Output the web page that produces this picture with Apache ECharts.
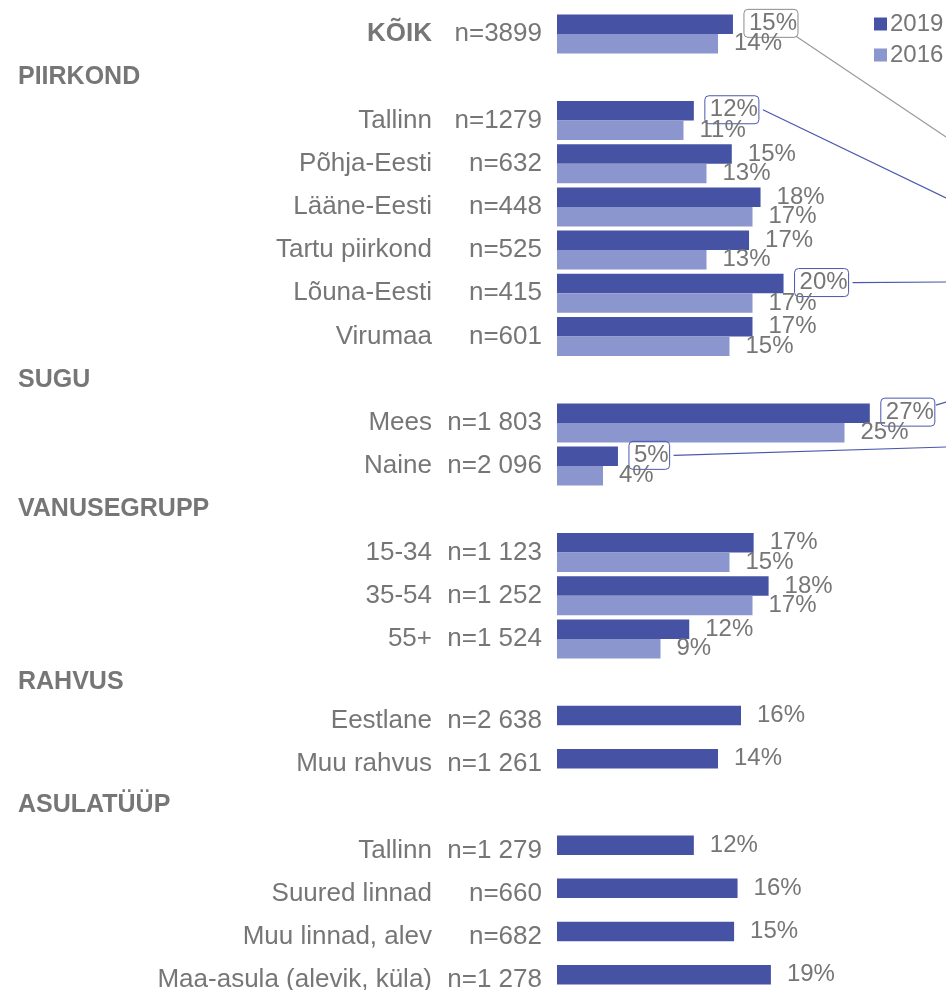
<!DOCTYPE html>
<html>
<head>
<meta charset="utf-8">
<script src="https://cdn.jsdelivr.net/npm/echarts@6/dist/echarts.min.js"></script>
<style>
html,body{margin:0;padding:0;background:#fff;overflow:hidden;}
#chart{width:946px;height:1030px;}
</style>
</head>
<body>
<div id="chart"></div>
<script>
// ---- data ----
const rowNames = ['KÕIK', '', 'Tallinn', 'Põhja-Eesti', 'Lääne-Eesti', 'Tartu piirkond', 'Lõuna-Eesti', 'Virumaa', '', 'Mees', 'Naine', '', '15-34', '35-54', '55+', '', 'Eestlane', 'Muu rahvus', '', 'Tallinn', 'Suured linnad', 'Muu linnad, alev', 'Maa-asula (alevik, küla)'];
const sampleSizes = ['n=3899', '', 'n=1279', 'n=632', 'n=448', 'n=525', 'n=415', 'n=601', '', 'n=1 803', 'n=2 096', '', 'n=1 123', 'n=1 252', 'n=1 524', '', 'n=2 638', 'n=1 261', '', 'n=1 279', 'n=660', 'n=682', 'n=1 278'];
const groupHeaders = ['', 'PIIRKOND', '', '', '', '', '', '', 'SUGU', '', '', 'VANUSEGRUPP', '', '', '', 'RAHVUS', '', '', 'ASULATÜÜP', '', '', '', ''];
const seriesNames = ['2019', '2016'];
const values2019 = [15.3, null, 11.9, 15.2, 17.7, 16.7, 19.7, 17.0, null, 27.2, 5.3, null, 17.1, 18.4, 11.5, null, 16.0, 14.0, null, 11.9, 15.7, 15.4, 18.6];
const values2016 = [14.0, null, 11.0, 13.0, 17.0, 13.0, 17.0, 15.0, null, 25.0, 4.0, null, 15.0, 17.0, 9.0, null, null, null, null, null, null, null, null];
// callout boxes on 2019 labels (row index, leader target y at right edge)
const callouts = [
  {row: 0, color: '#8c8c8c', lineColor: '#9a9a9a', startAt: 'bottom', endY: 137},
  {row: 2, color: '#4a58ad', lineColor: '#4a58ad', startAt: 'middle', endY: 198},
  {row: 6, color: '#4a58ad', lineColor: '#4a58ad', startAt: 'middle', endY: 282},
  {row: 9, color: '#4a58ad', lineColor: '#4a58ad', startAt: 'top', endY: 402},
  {row: 10, color: '#4a58ad', lineColor: '#4a58ad', startAt: 'middle', endY: 447}
];

// ---- styles ----
const FONT = "'Liberation Sans', Arial, sans-serif";
const GRAY = '#767676';
const C2019 = '#4653a4';
const C2016 = '#8b96ce';
const VAL_FS = 24;
const ROW_FS = 26;
const SINGLE_BAR_FROM = 16; // rows from here on only have a 2019 bar; labels sit a bit higher
const rowIds = rowNames.map((_, i) => 'r' + i);

const fmt = p => (p.value == null ? '' : Math.round(p.value) + '%');

function data2019() {
  return values2019.map((v, i) => {
    const c = callouts.find(c => c.row === i);
    if (!c) return v;
    return {
      value: v,
      label: {
        distance: 11,
        borderColor: c.color,
        borderWidth: 1,
        borderRadius: 4,
        padding: [2, 1, 0, 5],
        offset: [0, -1]
      }
    };
  });
}

const rowRich = {
  b: {fontSize: ROW_FS, fontWeight: 'bold', color: GRAY, fontFamily: FONT},
  n: {fontSize: ROW_FS, color: GRAY, fontFamily: FONT},
  u: {fontSize: ROW_FS, color: GRAY, fontFamily: FONT, padding: [0, 0, 9, 0]}
};
function rowLabel(arr, i) {
  const t = arr[i];
  if (!t) return '';
  if (i === 0 && arr === rowNames) return '{b|' + t + '}';
  return (i >= SINGLE_BAR_FROM ? '{u|' : '{n|') + t + '}';
}

const chart = echarts.init(document.getElementById('chart'), null, {renderer: 'canvas'});
const GRID_LEFT = 557;
const option = {
  backgroundColor: '#fff',
  animation: false,
  textStyle: {fontFamily: FONT},
  legend: {
    data: seriesNames,
    orient: 'vertical',
    left: 869,
    top: 7,
    itemWidth: 13,
    itemHeight: 13,
    itemGap: 7,
    icon: 'rect',
    textStyle: {fontSize: VAL_FS, color: GRAY, fontFamily: FONT, padding: [0, 0, 0, -2]}
  },
  grid: {left: GRID_LEFT, top: 12.5, height: 993.6, width: 345, containLabel: false},
  xAxis: {type: 'value', min: 0, max: 30, show: false},
  yAxis: [
    {
      type: 'category', data: rowIds, inverse: true, position: 'left',
      axisLine: {show: false}, axisTick: {show: false}, splitLine: {show: false},
      axisLabel: {
        interval: 0, margin: GRID_LEFT - 432, fontSize: ROW_FS, color: GRAY, fontFamily: FONT,
        formatter: (v, i) => rowLabel(rowNames, i),
        rich: rowRich
      }
    },
    {
      type: 'category', data: rowIds, inverse: true, position: 'left', offset: 0,
      axisLine: {show: false}, axisTick: {show: false}, splitLine: {show: false},
      axisLabel: {
        interval: 0, margin: GRID_LEFT - 542, fontSize: ROW_FS, color: GRAY, fontFamily: FONT,
        formatter: (v, i) => rowLabel(sampleSizes, i),
        rich: rowRich
      }
    },
    {
      type: 'category', data: rowIds, inverse: true, position: 'left', offset: 0,
      axisLine: {show: false}, axisTick: {show: false}, splitLine: {show: false},
      axisLabel: {
        interval: 0, margin: GRID_LEFT - 18, align: 'left', fontSize: 25, fontWeight: 'bold',
        color: GRAY, fontFamily: FONT,
        formatter: (v, i) => {
          const t = groupHeaders[i];
          if (!t) return '';
          return (i >= SINGLE_BAR_FROM ? '{u|' : '{h|') + t + '}';
        },
        rich: {
          h: {fontSize: 25, fontWeight: 'bold', color: GRAY, fontFamily: FONT},
          u: {fontSize: 25, fontWeight: 'bold', color: GRAY, fontFamily: FONT, padding: [0, 0, 14, 0]}
        }
      }
    }
  ],
  series: [
    {
      name: seriesNames[0], type: 'bar', yAxisIndex: 0, data: data2019(),
      barWidth: 19.5, barGap: '0%',
      itemStyle: {color: C2019},
      label: {show: true, position: 'right', distance: 16, formatter: fmt,
        fontSize: VAL_FS, color: GRAY, fontFamily: FONT, lineHeight: 26}
    },
    {
      name: seriesNames[1], type: 'bar', yAxisIndex: 0, data: values2016,
      barWidth: 19.5, barGap: '0%',
      itemStyle: {color: C2016},
      label: {show: true, position: 'right', distance: 16, formatter: fmt,
        fontSize: VAL_FS, color: GRAY, fontFamily: FONT, lineHeight: 26}
    }
  ]
};
chart.setOption(option);

// leader lines from callout boxes
(function () {
  const ctx = document.createElement('canvas').getContext('2d');
  ctx.font = VAL_FS + "px 'Liberation Sans', Arial, sans-serif";
  const sd = chart.getModel().getSeriesByIndex(0).getData();
  const W = chart.getWidth();
  const els = [];
  callouts.forEach(c => {
    const lay = sd.getItemLayout(c.row);
    if (!lay) return;
    const txt = Math.round(values2019[c.row]) + '%';
    const boxW = ctx.measureText(txt).width + 6;
    const x0 = lay.x + lay.width + 11 + boxW;
    const cy = lay.y + lay.height / 2 - 1;
    let y0 = cy, dx = 4;
    if (c.startAt === 'bottom') { y0 = cy + 13; dx = -2; }
    if (c.startAt === 'top') { y0 = cy - 7; dx = 1; }
    els.push({
      type: 'line', silent: true,
      shape: {x1: x0 + dx, y1: y0, x2: W, y2: c.endY},
      style: {stroke: c.lineColor, lineWidth: 1.2}
    });
  });
  chart.setOption({graphic: els});
})();
</script>
</body>
</html>
